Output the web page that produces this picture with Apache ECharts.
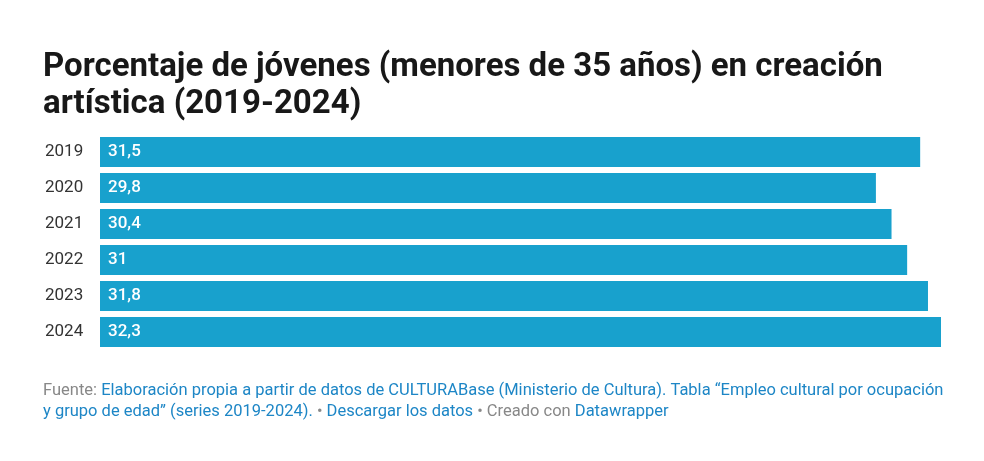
<!DOCTYPE html>
<html>
<head>
	<meta charset="utf-8" />
	<script src="https://cdn.jsdelivr.net/npm/echarts@6/dist/echarts.min.js"></script>
	<style>
		html, body { margin: 0; padding: 0; background: #ffffff; }
		#box1 { width: 984px; height: 461px; }
	</style>
</head>
<body>
<div id="box1"></div>
<script type="text/javascript">
	// datos
	var years = ["2019", "2020", "2021", "2022", "2023", "2024"];
	var values = [31.5, 29.8, 30.4, 31, 31.8, 32.3];

	var titleText = "Porcentaje de jóvenes (menores de 35 años) en creación\nartística (2019-2024)";
	var footerText = "{g|Fuente: }{b|Elaboración propia a partir de datos de CULTURABase (Ministerio de Cultura). Tabla “Empleo cultural por ocupación}\n" +
		"{b|y grupo de edad” (series 2019-2024).}{g| • }{b|Descargar los datos}{g| • Creado con }{b|Datawrapper}";

	var myChart = echarts.init(document.getElementById('box1'));
	var option = {
		backgroundColor: '#ffffff',
		animation: false,
		title: [{
			text: titleText,
			left: 38,
			top: 44,
			textStyle: {
				fontFamily: 'Roboto',
				fontSize: 33,
				fontWeight: 'bold',
				color: '#181818',
				lineHeight: 37
			}
		}, {
			text: footerText,
			left: 38,
			top: 375,
			textStyle: {
				fontFamily: 'Roboto',
				fontSize: 16.5,
				fontWeight: 'normal',
				lineHeight: 21,
				rich: {
					g: { color: '#888888', fontFamily: 'Roboto', fontSize: 16.5, fontWeight: 'normal', lineHeight: 21 },
					b: { color: '#1d86c6', fontFamily: 'Roboto', fontSize: 16.5, fontWeight: 'normal', lineHeight: 21 }
				}
			}
		}],
		grid: { left: 100, width: 841, top: 134, height: 216 },
		xAxis: {
			type: 'value',
			min: 0,
			max: 32.3,
			show: false
		},
		yAxis: {
			type: 'category',
			data: years,
			inverse: true,
			axisLine: { show: false },
			axisTick: { show: false },
			axisLabel: {
				align: 'left',
				margin: 55,
				fontFamily: 'Roboto',
				fontSize: 17,
				color: '#333333'
			}
		},
		series: [{
			type: 'bar',
			data: values,
			barWidth: 30,
			itemStyle: { color: '#18a1cd' },
			label: {
				show: true,
				position: 'insideLeft',
				distance: 8,
				fontFamily: 'Roboto',
				fontSize: 17,
				fontWeight: 500,
				color: '#ffffff',
				formatter: function (p) {
					return String(p.value).replace('.', ',');
				}
			}
		}]
	};
	myChart.setOption(option);
</script>
</body>
</html>
